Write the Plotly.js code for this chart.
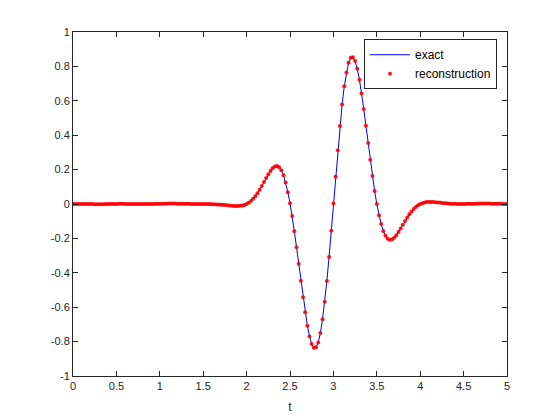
<!DOCTYPE html>
<html>
<head>
<meta charset="utf-8">
<script src="https://cdn.plot.ly/plotly-3.0.1.min.js"></script>
<style>html,body{margin:0;padding:0;background:#fff;}#chart{width:560px;height:420px;}</style>
</head>
<body>
<div id="chart"></div>
<script>
// sample times t (0 to 5, step 0.025)
const t = [
0,0.025,0.05,0.075,0.1,0.125,0.15,0.175,0.2,0.225,0.25,0.275,0.3,0.325,0.35,0.375,0.4,0.425,0.45,0.475,
0.5,0.525,0.55,0.575,0.6,0.625,0.65,0.675,0.7,0.725,0.75,0.775,0.8,0.825,0.85,0.875,0.9,0.925,0.95,0.975,
1,1.025,1.05,1.075,1.1,1.125,1.15,1.175,1.2,1.225,1.25,1.275,1.3,1.325,1.35,1.375,1.4,1.425,1.45,1.475,
1.5,1.525,1.55,1.575,1.6,1.625,1.65,1.675,1.7,1.725,1.75,1.775,1.8,1.825,1.85,1.875,1.9,1.925,1.95,1.975,
2,2.025,2.05,2.075,2.1,2.125,2.15,2.175,2.2,2.225,2.25,2.275,2.3,2.325,2.35,2.375,2.4,2.425,2.45,2.475,
2.5,2.525,2.55,2.575,2.6,2.625,2.65,2.675,2.7,2.725,2.75,2.775,2.8,2.825,2.85,2.875,2.9,2.925,2.95,2.975,
3,3.025,3.05,3.075,3.1,3.125,3.15,3.175,3.2,3.225,3.25,3.275,3.3,3.325,3.35,3.375,3.4,3.425,3.45,3.475,
3.5,3.525,3.55,3.575,3.6,3.625,3.65,3.675,3.7,3.725,3.75,3.775,3.8,3.825,3.85,3.875,3.9,3.925,3.95,3.975,
4,4.025,4.05,4.075,4.1,4.125,4.15,4.175,4.2,4.225,4.25,4.275,4.3,4.325,4.35,4.375,4.4,4.425,4.45,4.475,
4.5,4.525,4.55,4.575,4.6,4.625,4.65,4.675,4.7,4.725,4.75,4.775,4.8,4.825,4.85,4.875,4.9,4.925,4.95,4.975,5
];

// exact signal
const exact = [
0,0,0,0,0,0,0,0,0,0,0,0,0,0,0,0,0,0,0,0,
0,0,0,0,0,0,0,0,0,0,0,0,0,0,0,0,0,0,0,0,
0,0,0,0,0,0,0,0,0,0,0,0,0,0,0,0,0,0,0,0,
0,-0.0001,-0.0003,-0.0006,-0.001,-0.0015,-0.0022,-0.003,-0.0039,-0.005,-0.0063,-0.0076,-0.0089,-0.0101,-0.0111,-0.0117,-0.0116,-0.0107,-0.0087,-0.0052,
0,0.0076,0.0176,0.0302,0.0454,0.0631,0.083,0.1047,0.1276,0.1506,0.1727,0.1924,0.208,0.2179,0.2205,0.2138,0.1963,0.1668,0.1244,0.0688,
0.005,-0.07,-0.158,-0.251,-0.348,-0.446,-0.542,-0.63,-0.708,-0.77,-0.814,-0.836,-0.833,-0.805,-0.75,-0.67,-0.568,-0.447,-0.308,-0.155,
0.003,0.159,0.312,0.454,0.579,0.684,0.765,0.821,0.85,0.853,0.831,0.786,0.722,0.643,0.553,0.455,0.355,0.257,0.163,0.076,
0,-0.065,-0.117,-0.157,-0.185,-0.202,-0.208,-0.206,-0.196,-0.182,-0.163,-0.142,-0.12,-0.099,-0.078,-0.06,-0.043,-0.029,-0.017,-0.007,
0,0.005,0.009,0.011,0.012,0.012,0.011,0.01,0.009,0.008,0.006,0.005,0.004,0.003,0.002,0.0015,0.001,0.0006,0.0003,0.0001,
0,0,0,0,0,0,0,0,0,0,0,0,0,0,0,0,0,0,0,0,0
];

// reconstruction (small ripples in the flat parts)
const reconstruction = [
0,0,0,0,0,0,0,0,0,0,-0.001,-0.001,-0.001,-0.001,-0.001,0,0,0,0,0,
0,0.001,0.001,0.001,0,0,0,0,0,0,0,0,0,0,0,0,0,0,0.001,0.001,
0.001,0.002,0.002,0.002,0.003,0.003,0.003,0.003,0.002,0.002,0.002,0.001,0.001,0.001,0,0,0,0,0,0,
0,-0.0001,-0.0003,-0.0006,-0.001,-0.0015,-0.0022,-0.003,-0.0039,-0.005,-0.0063,-0.0076,-0.0089,-0.0101,-0.0111,-0.0117,-0.0116,-0.0107,-0.0087,-0.0052,
0,0.0076,0.0176,0.0302,0.0454,0.0631,0.083,0.1047,0.1276,0.1506,0.1727,0.1924,0.208,0.2179,0.2205,0.2138,0.1963,0.1668,0.1244,0.0688,
0.005,-0.07,-0.158,-0.251,-0.348,-0.446,-0.542,-0.63,-0.708,-0.77,-0.814,-0.836,-0.833,-0.805,-0.75,-0.67,-0.568,-0.447,-0.308,-0.155,
0.003,0.159,0.312,0.454,0.579,0.684,0.765,0.821,0.85,0.853,0.831,0.786,0.722,0.643,0.553,0.455,0.355,0.257,0.163,0.076,
0,-0.065,-0.117,-0.157,-0.185,-0.202,-0.208,-0.206,-0.196,-0.182,-0.163,-0.142,-0.12,-0.099,-0.078,-0.06,-0.043,-0.029,-0.017,-0.007,
0,0.005,0.009,0.011,0.012,0.012,0.011,0.01,0.009,0.008,0.006,0.005,0.004,0.003,0.002,0.0015,0.001,0.0006,0.0003,0.0001,
0,0,0.001,0.001,0.002,0.002,0.002,0.003,0.003,0.003,0.003,0.003,0.003,0.002,0.002,0.002,0.001,0.001,0,0,0
];

const xTickVals = [0,0.5,1,1.5,2,2.5,3,3.5,4,4.5,5];
const xTickText = ['0','0.5','1','1.5','2','2.5','3','3.5','4','4.5','5'];
const yTickVals = [-1,-0.8,-0.6,-0.4,-0.2,0,0.2,0.4,0.6,0.8,1];
const yTickText = ['-1','-0.8','-0.6','-0.4','-0.2','0','0.2','0.4','0.6','0.8','1'];
const seriesNames = ['exact','reconstruction'];
const xLabel = 't';

const axisColor = '#262626';
const font = 'Liberation Sans, Arial, Helvetica, sans-serif';

const traces = [
  {x: t, y: exact, type: 'scatter', mode: 'lines', name: seriesNames[0],
   line: {color: 'rgb(0,0,255)', width: 1}},
  {x: t, y: reconstruction, type: 'scatter', mode: 'markers', name: seriesNames[1],
   marker: {color: 'rgb(255,0,0)', size: 4, opacity: 0.9, line: {width: 0}}}
];

const axisCommon = {
  showgrid: false, zeroline: false, showline: true, linecolor: axisColor, linewidth: 1,
  mirror: 'ticks', ticks: 'inside', ticklen: 5, tickwidth: 1, tickcolor: axisColor,
  tickfont: {family: font, size: 11, color: axisColor}, tickmode: 'array'
};

const layout = {
  width: 560, height: 420,
  margin: {l: 73, r: 53, t: 32, b: 44, pad: 0},
  paper_bgcolor: '#ffffff', plot_bgcolor: '#ffffff',
  font: {family: font, color: axisColor},
  showlegend: true,
  legend: {
    x: 0.977, xanchor: 'right', y: 0.979, yanchor: 'top',
    bgcolor: '#ffffff', bordercolor: axisColor, borderwidth: 1,
    font: {family: font, size: 12, color: '#000000'},
    itemwidth: 40, tracegroupgap: 0
  },
  xaxis: Object.assign({}, axisCommon, {
    range: [0, 5], tickvals: xTickVals, ticktext: xTickText,
    title: {text: xLabel, font: {family: font, size: 12, color: axisColor}, standoff: 11}
  }),
  yaxis: Object.assign({}, axisCommon, {
    range: [-1, 1], tickvals: yTickVals, ticktext: yTickText
  })
};

Plotly.newPlot('chart', traces, layout, {displayModeBar: false, staticPlot: true});
</script>
</body>
</html>
